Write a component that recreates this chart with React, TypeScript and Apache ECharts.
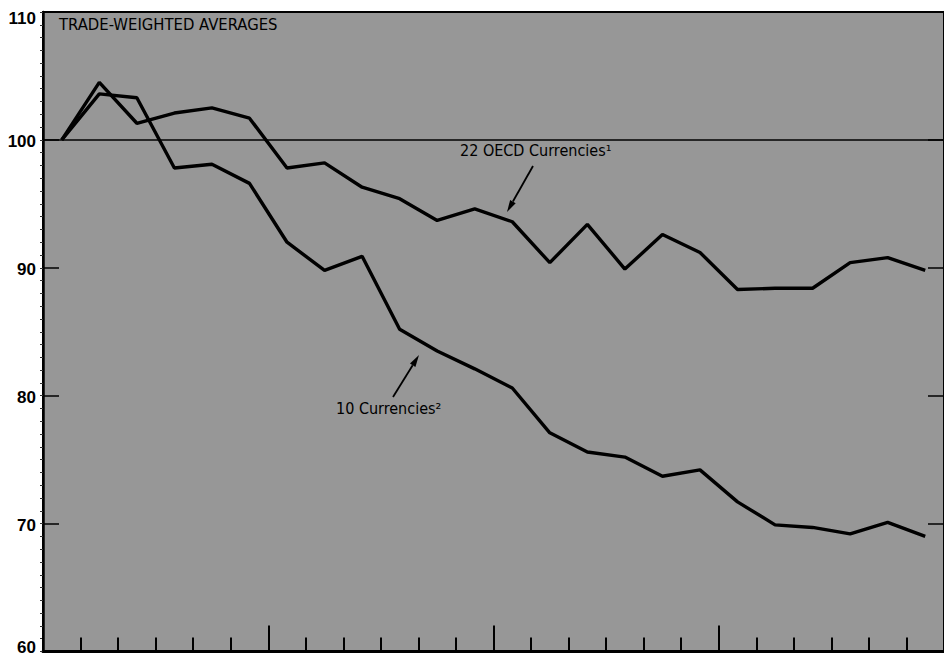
import React, { useEffect, useRef } from "react";
import * as echarts from "echarts";

const periods = ["P1", "P2", "P3", "P4", "P5", "P6", "P7", "P8", "P9", "P10", "P11", "P12", "P13", "P14", "P15", "P16", "P17", "P18", "P19", "P20", "P21", "P22", "P23", "P24"];
const oecd22 = [100, 104.5, 101.3, 102.1, 102.5, 101.7, 97.8, 98.2, 96.3, 95.4, 93.7, 94.6, 93.6, 90.4, 93.4, 89.9, 92.6, 91.2, 88.3, 88.4, 88.4, 90.4, 90.8, 89.8];
const ten = [100, 103.6, 103.3, 97.8, 98.1, 96.6, 92.0, 89.8, 90.9, 85.2, 83.5, 82.1, 80.6, 77.1, 75.6, 75.2, 73.7, 74.2, 71.7, 69.9, 69.7, 69.2, 70.1, 69.0];
const yMin = 60;
const yMax = 110;
const yStep = 10;
const baseLine = 100;

const NARROW = "'Liberation Sans Narrow', 'DejaVu Sans Condensed', 'Roboto Condensed', Arial, sans-serif";

function arrow(x1: number, y1: number, x2: number, y2: number): any[] {
  const dx = x2 - x1;
  const dy = y2 - y1;
  const len = Math.sqrt(dx * dx + dy * dy);
  const ux = dx / len;
  const uy = dy / len;
  const hl = 12;
  const hw = 3.2;
  const bx = x2 - ux * hl;
  const by = y2 - uy * hl;
  return [
    { type: "line", shape: { x1, y1, x2: bx, y2: by }, style: { stroke: "#000", lineWidth: 1.8 }, z: 100 },
    {
      type: "polygon",
      shape: { points: [[x2, y2], [bx - uy * hw, by + ux * hw], [bx + uy * hw, by - ux * hw]] },
      style: { fill: "#000" },
      z: 100,
    },
  ];
}

export default function App() {
  const ref = useRef<HTMLDivElement>(null);
  useEffect(() => {
    if (!ref.current) return;
    const chart = echarts.init(ref.current, null, { renderer: "svg" });
    const lineStyle = { color: "#000", width: 3.4 };
    const labelFont = {
      color: "#000",
      fontSize: 17,
      fontWeight: "bold",
      fontFamily: "'Liberation Sans', Arial, sans-serif",
    };
    chart.setOption({
      animation: false,
      backgroundColor: "#fff",
      grid: {
        left: 43,
        right: -7,
        top: 12,
        bottom: 4,
        show: true,
        backgroundColor: "#979797",
        borderColor: "#000",
        borderWidth: 2,
      },
      xAxis: [
        {
          type: "category",
          data: periods,
          boundaryGap: true,
          position: "bottom",
          axisLine: { show: true, lineStyle: { color: "#000", width: 3 } },
          axisTick: { show: true, inside: true, length: 14, interval: 0, lineStyle: { color: "#000", width: 2 } },
          axisLabel: { show: false },
          splitLine: { show: false },
        },
        {
          type: "category",
          data: periods,
          boundaryGap: true,
          position: "bottom",
          offset: 0,
          axisLine: { show: false },
          axisTick: {
            show: true,
            inside: true,
            length: 26,
            interval: (index: number) => index > 0 && index % 6 === 0,
            lineStyle: { color: "#000", width: 2 },
          },
          axisLabel: { show: false },
          splitLine: { show: false },
        },
      ],
      yAxis: [
        {
          type: "value",
          min: yMin,
          max: yMax,
          interval: yStep,
          position: "left",
          axisLine: { show: true, lineStyle: { color: "#000", width: 2.5 } },
          axisTick: { show: true, inside: true, length: 16, lineStyle: { color: "#000", width: 1.5 } },
          axisLabel: {
            show: true,
            margin: 7,
            ...labelFont,
            formatter: (v: number) => (v === yMax ? `{t|${v}}` : v === yMin ? `{b|${v}}` : `{m|${v}}`),
            rich: {
              t: { ...labelFont, padding: [12, 0, 0, 0] },
              b: { ...labelFont, padding: [0, 0, 8, 0] },
              m: { ...labelFont, padding: [4, 0, 0, 0] },
            },
          },
          splitLine: { show: false },
        },
        {
          type: "value",
          min: yMin,
          max: yMax,
          interval: yStep,
          position: "right",
          axisLine: { show: true, lineStyle: { color: "#000", width: 2.5 } },
          axisTick: { show: true, inside: true, length: 16, lineStyle: { color: "#000", width: 1.5 } },
          axisLabel: { show: false },
          splitLine: { show: false },
        },
        {
          type: "value",
          min: yMin,
          max: yMax,
          interval: 1,
          position: "left",
          offset: 0,
          axisLine: { show: false },
          axisTick: { show: true, inside: false, length: 3, lineStyle: { color: "#333", width: 1 } },
          axisLabel: { show: false },
          splitLine: { show: false },
        },
      ],
      series: [
        {
          name: "22 OECD Currencies",
          type: "line",
          data: oecd22,
          showSymbol: false,
          symbol: "none",
          lineStyle,
          z: 5,
          markLine: {
            silent: true,
            symbol: "none",
            label: { show: false },
            lineStyle: { color: "#000", width: 1.5, type: "solid" },
            data: [{ yAxis: baseLine }],
            z: 2,
          },
        },
        {
          name: "10 Currencies",
          type: "line",
          data: ten,
          showSymbol: false,
          symbol: "none",
          lineStyle,
          z: 5,
        },
      ],
      graphic: [
        {
          type: "text",
          left: 59,
          top: 16,
          style: { text: "TRADE-WEIGHTED AVERAGES", fill: "#000", font: `16.5px ${NARROW}` },
          z: 100,
        },
        {
          type: "text",
          left: 460,
          top: 142,
          style: { text: "22 OECD Currencies¹", fill: "#000", font: `16px ${NARROW}` },
          z: 100,
        },
        {
          type: "text",
          left: 336,
          top: 400,
          style: { text: "10 Currencies²", fill: "#000", font: `16px ${NARROW}` },
          z: 100,
        },
        ...arrow(533, 166, 507, 212),
        ...arrow(393, 397, 419, 355),
      ],
    });
    return () => chart.dispose();
  }, []);
  return (
    <div
      ref={ref}
      style={{ position: "fixed", left: 0, top: 0, width: 944, height: 656, background: "#fff" }}
    />
  );
}
